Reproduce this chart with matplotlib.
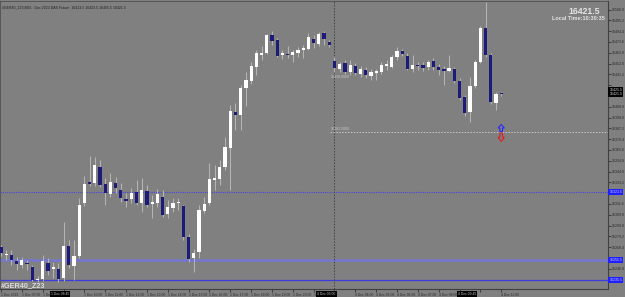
import matplotlib
matplotlib.use("Agg")
import matplotlib.pyplot as plt
from matplotlib.patches import Polygon
import numpy as np

# M15 candles, #GER40_Z23, 1 Dec 06:00 .. 4 Dec 11:00
opens = [16268.5, 16260.5, 16260.5, 16254.5, 16250.5, 16252.5, 16248.5, 16235.5, 16236.5, 16252.5,
         16246.5, 16246.5, 16237.5, 16269.5, 16249.5, 16259.5, 16312.5, 16333.5, 16332.5, 16348.5,
         16331.5, 16321.5, 16332.5, 16325.5, 16316.5, 16316.5, 16323.5, 16312.5, 16324.5, 16311.5,
         16312.5, 16318.5, 16301.5, 16307.5, 16312.5, 16309.5, 16278.5, 16257.5, 16263.5, 16304.5,
         16312.5, 16335.5, 16336.5, 16348.5, 16367.5, 16403.5, 16400.5, 16427.5, 16434.5, 16448.5,
         16460.5, 16462.5, 16480.5, 16475.5, 16460.5, 16461.5, 16460.5, 16462.5, 16465.5, 16466.5,
         16476.5, 16471.5, 16482.5, 16473.5, 16454.5, 16446.5, 16452.5, 16443.5, 16449.5, 16441.5,
         16445.5, 16439.5, 16442.5, 16443.5, 16449.5, 16448.5, 16458.5, 16464.5, 16459.5, 16446.5,
         16450.5, 16450.5, 16448.5, 16454.5, 16448.5, 16446.5, 16444.5, 16446.5, 16434.5, 16418.5,
         16403.5, 16429.5, 16453.5, 16487.5, 16460.5, 16412.5, 16422.5]
highs = [16270.5, 16265.5, 16265.5, 16258.5, 16258.5, 16255.5, 16250.5, 16239.5, 16260.5, 16257.5,
         16253.5, 16252.5, 16293.5, 16275.5, 16275.5, 16317.5, 16339.5, 16359.5, 16358.5, 16355.5,
         16337.5, 16342.5, 16338.5, 16332.5, 16322.5, 16327.5, 16335.5, 16337.5, 16330.5, 16320.5,
         16326.5, 16325.5, 16315.5, 16317.5, 16317.5, 16310.5, 16281.5, 16266.5, 16310.5, 16318.5,
         16352.5, 16350.5, 16355.5, 16378.5, 16410.5, 16412.5, 16430.5, 16443.5, 16453.5, 16465.5,
         16469.5, 16481.5, 16484.5, 16477.5, 16465.5, 16469.5, 16465.5, 16468.5, 16470.5, 16482.5,
         16480.5, 16483.5, 16484.5, 16475.5, 16458.5, 16453.5, 16455.5, 16455.5, 16452.5, 16449.5,
         16448.5, 16446.5, 16446.5, 16453.5, 16455.5, 16460.5, 16468.5, 16466.5, 16462.5, 16460.5,
         16453.5, 16453.5, 16455.5, 16457.5, 16451.5, 16449.5, 16460.5, 16448.5, 16437.5, 16420.5,
         16438.5, 16455.5, 16489.5, 16513.5, 16462.5, 16423.5, 16423.5]
lows = [16259.5, 16255.5, 16250.5, 16245.5, 16247.5, 16245.5, 16234.5, 16233.5, 16234.5, 16240.5,
        16237.5, 16233.5, 16234.5, 16247.5, 16235.5, 16257.5, 16309.5, 16329.5, 16329.5, 16328.5,
        16310.5, 16318.5, 16322.5, 16313.5, 16308.5, 16312.5, 16310.5, 16303.5, 16308.5, 16297.5,
        16308.5, 16298.5, 16297.5, 16303.5, 16305.5, 16275.5, 16253.5, 16243.5, 16257.5, 16302.5,
        16310.5, 16325.5, 16330.5, 16345.5, 16325.5, 16385.5, 16385.5, 16409.5, 16431.5, 16440.5,
        16455.5, 16461.5, 16470.5, 16458.5, 16456.5, 16457.5, 16453.5, 16458.5, 16457.5, 16465.5,
        16467.5, 16469.5, 16470.5, 16468.5, 16443.5, 16443.5, 16441.5, 16440.5, 16440.5, 16438.5,
        16437.5, 16435.5, 16435.5, 16441.5, 16445.5, 16447.5, 16455.5, 16459.5, 16445.5, 16443.5,
        16445.5, 16444.5, 16445.5, 16445.5, 16440.5, 16430.5, 16443.5, 16432.5, 16415.5, 16399.5,
        16393.5, 16427.5, 16452.5, 16458.5, 16411.5, 16405.5, 16419.5]
closes = [16262.5, 16261.5, 16255.5, 16251.5, 16255.5, 16251.5, 16235.5, 16236.5, 16254.5, 16244.5,
          16248.5, 16236.5, 16269.5, 16250.5, 16259.5, 16310.5, 16331.5, 16331.5, 16350.5, 16330.5,
          16322.5, 16333.5, 16327.5, 16317.5, 16314.5, 16322.5, 16312.5, 16325.5, 16310.5, 16313.5,
          16321.5, 16300.5, 16308.5, 16312.5, 16313.5, 16278.5, 16256.5, 16262.5, 16305.5, 16311.5,
          16336.5, 16337.5, 16348.5, 16368.5, 16404.5, 16400.5, 16427.5, 16435.5, 16449.5, 16462.5,
          16462.5, 16480.5, 16474.5, 16459.5, 16462.5, 16460.5, 16463.5, 16465.5, 16467.5, 16478.5,
          16472.5, 16481.5, 16476.5, 16470.5, 16447.5, 16451.5, 16443.5, 16450.5, 16442.5, 16446.5,
          16440.5, 16443.5, 16444.5, 16450.5, 16451.5, 16458.5, 16464.5, 16461.5, 16446.5, 16450.5,
          16449.5, 16447.5, 16453.5, 16448.5, 16445.5, 16444.5, 16447.5, 16434.5, 16417.5, 16402.5,
          16429.5, 16453.5, 16487.5, 16460.5, 16413.5, 16421.5, 16421.5]

# hourly time scale labels (every 4th bar); parts hidden by the black boxes are left out
time_labels = ["1 Dec 2023", "1 Dec 07:00", "1 Dec", "", "1 Dec 10:00",
               "1 Dec 11:00", "1 Dec 12:00", "1 Dec 13:00", "1 Dec 14:00", "1 Dec 15:00",
               "1 Dec 16:00", "1 Dec 17:00", "1 Dec 18:00", "1 Dec 19:00", "1 Dec 20:00",
               "1", "", "4 Dec 04:00", "4 Dec 05:00", "4 Dec 06:00",
               "4 Dec 07:00", "4 Dec 08:00", "", "", "4 Dec 11:00"]
time_boxes = ["1 Dec 08:45", "4 Dec 03:00", "4 Dec 09:45"]
time_box_bars = [9.5, 60.7, 87.7]
price_ticks = [16506.0, 16495.2, 16484.4, 16473.6, 16462.8, 16452.0, 16441.2, 16430.4, 16419.6,
               16408.8, 16398.0, 16387.2, 16376.4, 16365.6, 16354.8, 16344.0, 16333.2, 16322.4,
               16311.6, 16300.8, 16290.0, 16279.2, 16268.4, 16257.6, 16246.8, 16236.0]

level_dotted = 16323.5      # blue dotted level
level_thick = 16255.5       # lavender solid level
level_low = 16235.5         # blue solid level
level_grey = 16383.5        # grey dotted level from Monday open
label_upper = 16438.0
session_bar = 64            # first Monday candle
last_price = 16421.5
ask_price = 16425.5

BG = "#808080"
BEAR = "#1c1c78"
BULL = "#ffffff"
WICK = "#b4b4b4"
FONT = ["Liberation Sans", "DejaVu Sans"]


def draw_candles(ax):
    x = np.arange(len(opens))
    o = np.array(opens)
    c = np.array(closes)
    ax.vlines(x, lows, highs, color=WICK, linewidth=0.75, zorder=2)
    bottoms = np.minimum(o, c)
    heights = np.maximum(np.abs(c - o), 0.9)
    colors = [BULL if cc > oo else BEAR for oo, cc in zip(o, c)]
    ax.bar(x, heights, bottom=bottoms, width=0.62, color=colors, linewidth=0, zorder=3)


def hollow_arrow(ax, x, base, length, color):
    # outlined arrow, length > 0 points up, < 0 points down
    head = length * 0.5
    pts = [(x - 0.25, base), (x - 0.25, base + head), (x - 0.6, base + head),
           (x, base + length), (x + 0.6, base + head), (x + 0.25, base + head),
           (x + 0.25, base)]
    ax.add_patch(Polygon(pts, closed=True, facecolor="none", edgecolor=color,
                         linewidth=0.8, zorder=4))


def main():
    plt.rcParams["font.family"] = FONT
    fig = plt.figure(figsize=(6.25, 2.97), dpi=100, facecolor=BG)
    ax = fig.add_axes([0.0, 8 / 297, 607.5 / 625, 288 / 297], facecolor=BG)

    draw_candles(ax)

    # levels
    ax.axhline(level_dotted, color="#4646e6", linewidth=0.8, linestyle=(0, (1, 1)), zorder=1)
    ax.axhline(level_thick, color="#7676d2", linewidth=1.8, zorder=1)
    ax.axhline(level_low, color="#3c3ce0", linewidth=0.9, zorder=1)
    ax.hlines(level_grey, session_bar - 0.9, 130, color="#c8c8c8", linewidth=0.7,
              linestyle=(0, (1.5, 1.5)), zorder=1)
    ax.axvline(session_bar, color="#404040", linewidth=0.7, linestyle=(0, (1.5, 1.5)), zorder=1)

    ax.text(session_bar - 0.8, level_grey + 1.0, "%.4f" % level_grey, fontsize=2.6,
            color="#c8c8c8", va="bottom", ha="left")
    ax.text(session_bar - 0.8, label_upper, "%.4f" % label_upper, fontsize=2.6,
            color="#c8c8c8", va="center", ha="left")

    # fractal arrows at the last bar
    last = len(opens) - 1
    hollow_arrow(ax, last, level_grey + 0.5, 7, "#2a2aff")
    hollow_arrow(ax, last, level_grey - 1.0, -8.5, "#e02020")

    ax.set_xlim(-0.2, 116.4)
    ax.set_ylim(16226.5, 16514.5)

    # price scale on the right, ticks under the coloured boxes are hidden
    boxed = [level_dotted, level_thick, level_low, ask_price, last_price]
    ax.yaxis.tick_right()
    ax.set_yticks(price_ticks)
    ax.set_yticklabels(["" if min(abs(p - b) for b in boxed) < 5 else "%.1f" % p
                        for p in price_ticks])
    ax.tick_params(axis="y", length=2, width=0.6, color="#303030", labelsize=2.6,
                   labelcolor="#2a2a2a", pad=1)
    ax.set_xticks(np.arange(0, len(opens), 4))
    ax.set_xticklabels(time_labels)
    ax.tick_params(axis="x", length=2, width=0.6, color="#303030", labelsize=2.4,
                   labelcolor="#2a2a2a", pad=0.8)
    for lab in ax.get_xticklabels():
        lab.set_horizontalalignment("left")

    for side in ["top", "left"]:
        ax.spines[side].set_color("#505050")
        ax.spines[side].set_linewidth(0.6)
    for side in ["right", "bottom"]:
        ax.spines[side].set_color("#404040")
        ax.spines[side].set_linewidth(0.8)

    ytr = ax.get_yaxis_transform()
    for lvl in [level_dotted, level_thick, level_low]:
        ax.text(1.003, lvl, "%.1f" % lvl, transform=ytr, fontsize=2.6, color="#d0d0ff",
                va="center", ha="left", clip_on=False, zorder=5,
                bbox=dict(boxstyle="square,pad=0.25", facecolor="#1e1eff", edgecolor="none"))
    for p in [ask_price, last_price]:
        ax.text(1.003, p, "%.1f" % p, transform=ytr, fontsize=2.6, color="#d0d0d0",
                va="center", ha="left", clip_on=False, zorder=5,
                bbox=dict(boxstyle="square,pad=0.25", facecolor="#000000", edgecolor="none"))

    xtr = ax.get_xaxis_transform()
    for idx, s in zip(time_box_bars, time_boxes):
        ax.text(idx, -0.012, s, transform=xtr, fontsize=2.4, color="#c0c0c0", va="top",
                ha="left", clip_on=False, zorder=5,
                bbox=dict(boxstyle="square,pad=0.3", facecolor="#000000", edgecolor="none"))

    # header / overlay texts
    ax.text(0.004, 0.985, "#GER40_Z23,M15:  Dec 2023 DAX Future  16413.5 16423.5 16405.5 16421.5",
            transform=ax.transAxes, fontsize=2.5, color="#202020", va="top", ha="left")
    ax.text(0.987, 0.965, "%.1f" % last_price, transform=ax.transAxes, fontsize=6.2,
            fontweight="bold", color="#e4e4e4", va="center", ha="right")
    ax.text(0.995, 0.94, "Local Time:10:30:35", transform=ax.transAxes, fontsize=4,
            fontweight="bold", color="#e4e4e4", va="center", ha="right")
    ax.text(0.002, 0.0, "#GER40_Z23", transform=ax.transAxes, fontsize=5.2,
            fontweight="bold", color="#dcdcdc", va="bottom", ha="left", zorder=5)

    fig.savefig("out.png", dpi=100, facecolor=BG)


if __name__ == "__main__":
    main()
